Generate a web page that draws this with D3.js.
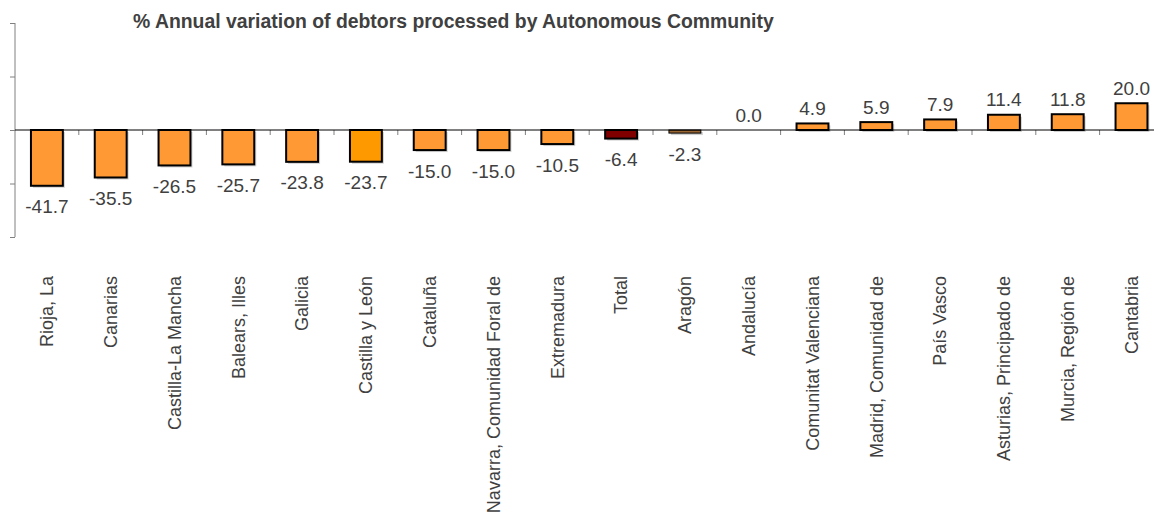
<!DOCTYPE html>
<html>
<head>
<meta charset="utf-8">
<script src="https://cdn.jsdelivr.net/npm/d3@7"></script>
<style>
  body { margin: 0; background: #fff; }
  text { font-family: "Liberation Sans", Arial, sans-serif; fill: #404040; }
</style>
</head>
<body>
<div id="chart"></div>
<script>
// Data
const regions = [
  "Rioja, La", "Canarias", "Castilla-La Mancha", "Balears, Illes", "Galicia",
  "Castilla y León", "Cataluña", "Navarra, Comunidad Foral de", "Extremadura",
  "Total", "Aragón", "Andalucía", "Comunitat Valenciana", "Madrid, Comunidad de",
  "País Vasco", "Asturias, Principado de", "Murcia, Región de", "Cantabria"
];
const variation = [
  -41.7, -35.5, -26.5, -25.7, -23.8, -23.7, -15.0, -15.0, -10.5,
  -6.4, -2.3, 0.0, 4.9, 5.9, 7.9, 11.4, 11.8, 20.0
];
const yTicks = [-80, -40, 0, 40, 80];
const titleText = "% Annual variation of debtors processed by Autonomous Community";

const data = regions.map((r, i) => ({ region: r, value: variation[i] }));

const width = 1154, height = 514;
const plot = { left: 15, top: 23, bottom: 237 };
const step = 63.8;

const svg = d3.select("#chart")
  .append("svg")
  .attr("width", width)
  .attr("height", height);

const x = d3.scaleBand()
  .domain(regions)
  .range([plot.left, plot.left + step * regions.length])
  .paddingInner(0.5)
  .paddingOuter(0.25);

const y = d3.scaleLinear()
  .domain([-80, 80])
  .range([plot.bottom, plot.top]);

// special colours
const fillFor = d => {
  if (d.region === "Total") return "#800000";
  if (d.region === "Aragón") return "#996633";
  if (d.region === "Castilla y León") return "#FF9900";
  return "#FF9933";
};

// y axis (no labels)
const yAxis = svg.append("g")
  .attr("transform", `translate(${plot.left},0)`)
  .call(d3.axisLeft(y).tickValues(yTicks).tickSize(5).tickFormat(""));
yAxis.select(".domain").attr("stroke", "#808080").attr("d", `M0,${plot.top}V${plot.bottom}`);
yAxis.selectAll(".tick line").attr("stroke", "#808080");

// category ticks between bars on the zero line
const boundaries = d3.range(1, regions.length + 1).map(i => plot.left + i * step);
svg.selectAll(".cat-tick")
  .data(boundaries)
  .enter()
  .append("line")
  .attr("x1", d => d).attr("x2", d => d)
  .attr("y1", y(0)).attr("y2", y(0) + 5)
  .attr("stroke", "#808080");

// shadows
svg.selectAll(".shadow")
  .data(data.filter(d => d.value !== 0))
  .enter()
  .append("rect")
  .attr("x", d => x(d.region) + 2)
  .attr("y", d => Math.min(y(d.value), y(0)) + 2)
  .attr("width", x.bandwidth())
  .attr("height", d => Math.abs(y(d.value) - y(0)))
  .attr("fill", "#b0b0b0")
  .attr("opacity", 0.6);

// bars (thinner outline on very short ones so the fill still shows)
svg.selectAll(".bar")
  .data(data.filter(d => d.value !== 0))
  .enter()
  .append("rect")
  .attr("x", d => x(d.region))
  .attr("y", d => Math.min(y(d.value), y(0)))
  .attr("width", x.bandwidth())
  .attr("height", d => Math.abs(y(d.value) - y(0)))
  .attr("fill", fillFor)
  .attr("stroke", "#000")
  .attr("stroke-width", d => Math.abs(y(d.value) - y(0)) < 5 ? 1 : 2);

// zero line
svg.append("line")
  .attr("x1", plot.left).attr("x2", width)
  .attr("y1", y(0)).attr("y2", y(0))
  .attr("stroke", "#000");

// value labels
svg.selectAll(".val")
  .data(data)
  .enter()
  .append("text")
  .attr("x", d => x(d.region) + x.bandwidth() / 2)
  .attr("y", d => d.value < 0 ? y(d.value) + 21 : y(d.value) - 15)
  .attr("dy", "0.35em")
  .attr("text-anchor", "middle")
  .style("font-size", "19px")
  .text(d => d.value.toFixed(1));

// category labels
svg.selectAll(".cat")
  .data(regions)
  .enter()
  .append("text")
  .attr("transform", d => `translate(${x(d) + x.bandwidth() / 2},276) rotate(-90)`)
  .attr("dy", "0.35em")
  .attr("text-anchor", "end")
  .style("font-size", "18px")
  .text(d => d);

// title
svg.append("text")
  .attr("x", 133)
  .attr("y", 28)
  .style("font-size", "19.4px")
  .style("font-weight", "bold")
  .text(titleText);
</script>
</body>
</html>
